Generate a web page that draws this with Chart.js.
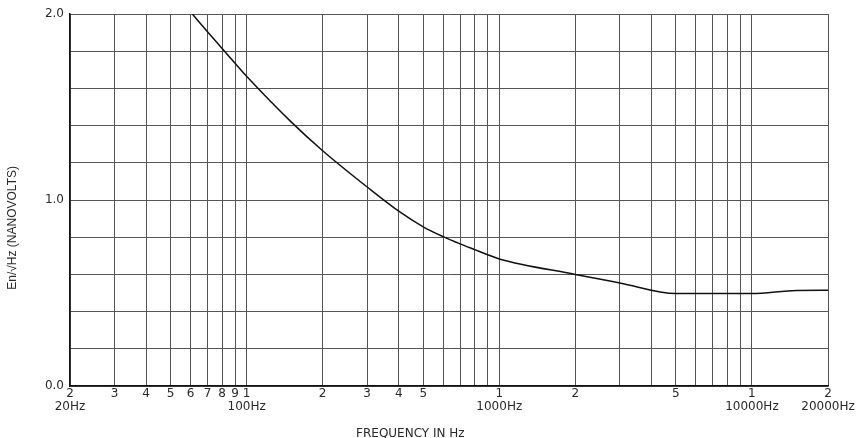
<!DOCTYPE html>
<html>
<head>
<meta charset="utf-8">
<script src="https://cdn.jsdelivr.net/npm/chart.js@4"></script>
<style>
html,body{margin:0;padding:0;background:#fff;}
#wrap{width:860px;height:438px;}
</style>
</head>
<body>
<div id="wrap"><canvas id="c" width="860" height="438"></canvas></div>
<script>
// ---- data ----
const frequencies = [61, 70, 80, 90, 100, 150, 200, 300, 400, 500, 600, 700, 800, 900, 1000, 2000, 3000, 5000, 10000, 15000, 20000];
const noiseNv = [2.0, 1.905, 1.815, 1.735, 1.665, 1.42, 1.265, 1.07, 0.94, 0.856, 0.803, 0.764, 0.733, 0.706, 0.683, 0.60, 0.554, 0.497, 0.497, 0.514, 0.515];

const gridFreqs = [20,30,40,50,60,70,80,90,100,200,300,400,500,600,700,800,900,1000,2000,3000,4000,5000,6000,7000,8000,9000,10000,20000];
const digitLabels = ["2","3","4","5","6","7","8","9","1","2","3","4","5","","","","","1","2","","","5","","","","","1","2"];
const unitLabels = ["20Hz","","","","","","","","100Hz","","","","","","","","","1000Hz","","","","","","","","","10000Hz","20000Hz"];
const yLabeled = [0, 1, 2];

const xTitle = "FREQUENCY IN Hz";
const yTitle = "En/\u221AHz (NANOVOLTS)";

const FONT = "'DejaVu Sans', sans-serif";
const FONT2 = "'Liberation Sans', Arial, sans-serif";

const titlePlugin = {
  id: 'titles',
  afterDraw(chart) {
    const ctx = chart.ctx, a = chart.chartArea;
    ctx.save();
    ctx.fillStyle = '#2a2a2a';
    ctx.textAlign = 'center';
    ctx.textBaseline = 'middle';
    ctx.font = "12px " + FONT;
    ctx.fillText(xTitle, a.left + (a.right - a.left) * 0.449, 434);
    ctx.font = "12px " + FONT2;
    ctx.translate(13, a.top + (a.bottom - a.top) * 0.575);
    ctx.rotate(-Math.PI / 2);
    ctx.fillText(yTitle, 0, 0);
    ctx.restore();
  }
};

new Chart(document.getElementById('c'), {
  type: 'line',
  data: {
    datasets: [{
      data: frequencies.map((f, i) => ({x: f, y: noiseNv[i]})),
      borderColor: '#111',
      borderWidth: 1.5,
      pointRadius: 0,
      cubicInterpolationMode: 'monotone',
      fill: false
    }]
  },
  options: {
    responsive: false,
    animation: false,
    devicePixelRatio: 1,
    layout: {padding: {top: 14, right: 32, left: 0, bottom: 0}},
    plugins: {legend: {display: false}, tooltip: {enabled: false}},
    scales: {
      x: {
        type: 'logarithmic',
        min: 20, max: 20000,
        afterFit(s) { s.height = 52; },
        afterBuildTicks(s) { s.ticks = gridFreqs.map(v => ({value: v})); },
        grid: {color: '#555', lineWidth: 1, drawTicks: false},
        border: {color: '#111', width: 1.5},
        ticks: {
          autoSkip: false, maxRotation: 0, minRotation: 0, padding: 1,
          color: '#2a2a2a', font: {family: FONT, size: 12, lineHeight: 1.1},
          callback(v, i) {
            const k = gridFreqs.indexOf(v);
            if (k < 0) return '';
            return unitLabels[k] ? [digitLabels[k], unitLabels[k]] : digitLabels[k];
          }
        }
      },
      y: {
        min: 0, max: 2,
        afterFit(s) { s.width = 70; },
        grid: {color: '#555', lineWidth: 1, drawTicks: false},
        border: {color: '#111', width: 1.5},
        ticks: {
          stepSize: 0.2, padding: 6,
          color: '#2a2a2a', font: {family: FONT, size: 12},
          callback(v) {
            const r = Math.round(v);
            return (Math.abs(v - r) < 1e-6 && yLabeled.includes(r)) ? r.toFixed(1) : '';
          }
        }
      }
    }
  },
  plugins: [titlePlugin]
});
</script>
</body>
</html>
